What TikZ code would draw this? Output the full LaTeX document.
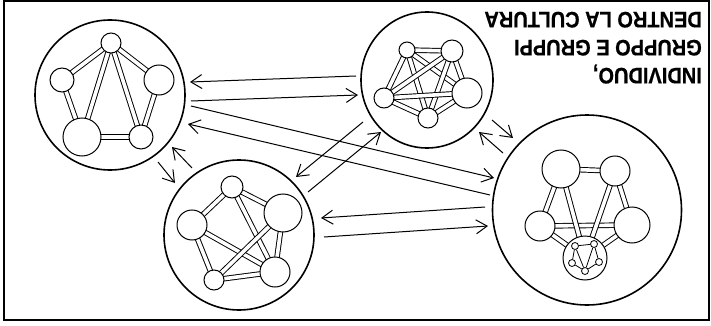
\documentclass[tikz,border=0pt]{standalone}
\usepackage{fontspec}
\setmainfont{Liberation Sans}
\newfontfamily\titlefont[FakeBold=0.6]{Liberation Sans Bold}
\usetikzlibrary{arrows.meta,shapes.geometric}
\pgfdeclarelayer{bg}
\pgfsetlayers{bg,main}
\tikzset{
  bigc/.style={draw, line width=1.6pt, ellipse, inner sep=0pt},
  nd/.style={draw, circle, fill=white, line width=1pt, inner sep=0pt, minimum size=#1},
  sm/.style={draw, circle, fill=white, line width=0.8pt, inner sep=0pt, minimum size=7pt},
  dbl/.style={draw=black, double=white, double distance=3.6pt, line width=0.95pt},
  thin/.style={line width=0.8pt},
  arr/.style={-{Straight Barb[length=11pt,width=14pt]}, line width=1pt},
  lbl/.style={rotate=180, yscale=1.12, anchor=base west, inner sep=0pt, font=\titlefont\fontsize{20}{24}\selectfont}
}
\begin{document}
\begin{tikzpicture}[x=1pt,y=-1pt]
\useasboundingbox (0,0) rectangle (711,326);
\draw[line width=2pt] (4,1) rectangle (709,320);

% title (upside down)
\node[lbl] (t1) at (702,68) {INDIVIDUO,};
\node[lbl] (t2) at (702,40) {GRUPPO E GRUPPI};
\node[lbl] (t3) at (702,12) {DENTRO LA CULTURA};

% big circles
\node[bigc, minimum width=150pt, minimum height=150pt] (c1) at (110,95) {};
\node[bigc, minimum width=150pt, minimum height=150pt] (c2) at (239,235) {};
\node[bigc, minimum width=132pt, minimum height=136pt] (c3) at (427,80) {};
\node[bigc, minimum width=189pt, minimum height=190pt] (c4) at (587,210) {};

% circle 1
\node[nd=20pt] (a1) at (111,43) {};
\node[nd=24pt] (a2) at (62,80) {};
\node[nd=30pt] (a3) at (159,80) {};
\node[nd=38pt] (a4) at (82,137) {};
\node[nd=24pt] (a5) at (141,137) {};
\begin{pgfonlayer}{bg}
\foreach \u/\v in {a1/a2,a1/a3,a2/a4,a3/a5,a4/a5,a1/a4,a1/a5}
  \draw[dbl] (\u.center) -- (\v.center);
\end{pgfonlayer}

% circle 2
\node[nd=22pt] (b1) at (232,187) {};
\node[nd=30pt] (b2) at (192,225) {};
\node[nd=38pt] (b3) at (283,213) {};
\node[nd=30pt] (b4) at (275,272) {};
\node[nd=20pt] (b5) at (214,280) {};
\begin{pgfonlayer}{bg}
\foreach \u/\v in {b1/b2,b1/b3,b1/b4,b2/b5,b2/b4,b3/b5,b3/b4,b5/b4}
  \draw[dbl] (\u.center) -- (\v.center);
\end{pgfonlayer}

% circle 3
\node[nd=16pt] (d1) at (407,50) {};
\node[nd=22pt] (d2) at (452,51) {};
\node[nd=30pt] (d3) at (467,93) {};
\node[nd=20pt] (d4) at (428,118) {};
\node[nd=20pt] (d5) at (384,98) {};
\begin{pgfonlayer}{bg}
\foreach \u/\v in {d1/d2,d1/d3,d1/d4,d1/d5,d2/d3,d2/d4,d2/d5,d3/d4,d3/d5,d4/d5}
  \draw[dbl] (\u.center) -- (\v.center);
\end{pgfonlayer}

% circle 4
\node[nd=38pt] (e1) at (561,169) {};
\node[nd=30pt] (e2) at (615,171) {};
\node[nd=30pt] (e3) at (540,226) {};
\node[nd=36pt] (e4) at (632,225) {};
\node[nd=44pt] (e5) at (585,258) {};
\begin{pgfonlayer}{bg}
\foreach \u/\v in {e1/e2,e1/e3,e2/e4,e3/e4,e1/e5,e2/e5,e3/e5,e4/e5}
  \draw[dbl] (\u.center) -- (\v.center);
\end{pgfonlayer}
% miniature group
\node[sm] (s1) at (575,246) {};
\node[sm] (s2) at (594,244) {};
\node[sm] (s3) at (572,263) {};
\node[sm] (s4) at (599,262) {};
\node[sm] (s5) at (585,271) {};
\foreach \u/\v in {s1/s2,s1/s3,s2/s4,s1/s5,s2/s5,s3/s5,s4/s5}
  \draw[thin] (\u) -- (\v);

% arrow end points
\coordinate (pA1) at (356,76);  \coordinate (pA2) at (190,82);
\coordinate (pB1) at (191,101); \coordinate (pB2) at (358,95);
\coordinate (pC1) at (191,106); \coordinate (pC2) at (494,178);
\coordinate (pD1) at (490,195); \coordinate (pD2) at (188,124);
\coordinate (pE1) at (158,162); \coordinate (pE2) at (175,183);
\coordinate (pE3) at (192,168); \coordinate (pE4) at (172,147);
\coordinate (pF1) at (363,122); \coordinate (pF2) at (296,177);
\coordinate (pF3) at (308,192); \coordinate (pF4) at (381,132);
\coordinate (pG1) at (485,207); \coordinate (pG2) at (321,218);
\coordinate (pG3) at (324,237); \coordinate (pG4) at (488,226);
\coordinate (pH1) at (492,120); \coordinate (pH2) at (513,138);
\coordinate (pH3) at (503,153); \coordinate (pH4) at (479,132);

\foreach \u/\v in {pA1/pA2,pB1/pB2,pC1/pC2,pD1/pD2,pE1/pE2,pE3/pE4,pF1/pF2,pF3/pF4,pG1/pG2,pG3/pG4,pH1/pH2,pH3/pH4}
  \draw[arr] (\u) -- (\v);
\end{tikzpicture}
\end{document}
